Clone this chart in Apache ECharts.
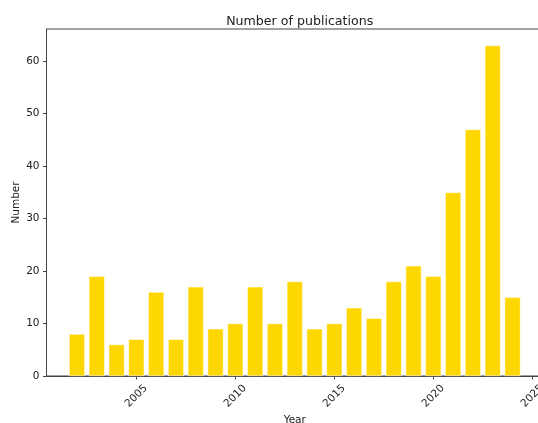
<!DOCTYPE html>
<html>
<head>
<meta charset="utf-8">
<script src="https://cdn.jsdelivr.net/npm/echarts@6/dist/echarts.min.js"></script>
<style>
html,body{margin:0;padding:0;background:#fff;}
#chart{width:538px;height:423px;}
</style>
</head>
<body>
<div id="chart"></div>
<script>
const years = [2002,2003,2004,2005,2006,2007,2008,2009,2010,2011,2012,2013,2014,2015,2016,2017,2018,2019,2020,2021,2022,2023,2024];
const counts = [8,19,6,7,16,7,17,9,10,17,10,18,9,10,13,11,18,21,19,35,47,63,15];
const xTicks = [2005,2010,2015,2020,2025];
const yTicks = [0,10,20,30,40,50,60];

const font = 'DejaVu Sans';
const axisColor = '#444';
const textColor = '#222';

const chart = echarts.init(document.getElementById('chart'), null, {renderer:'canvas'});
chart.setOption({
  animation:false,
  backgroundColor:'#fff',
  title:{
    text:'Number of publications',
    left:294.7, top:10, textAlign:'center',
    textStyle:{fontFamily:font, fontSize:12.6, fontWeight:'normal', color:textColor}
  },
  grid:{left:46.5, top:29, width:496.5, height:347, containLabel:false, outerBoundsMode:'none',
    show:true, borderColor:axisColor, borderWidth:1, backgroundColor:'transparent'},
  xAxis:{
    type:'value', min:2000.46, max:2025.54,
    name:'Year', nameLocation:'middle', nameGap:39, nameMoveOverlap:false,
    nameTextStyle:{fontFamily:font, fontSize:10.5, color:textColor},
    axisLine:{show:true, lineStyle:{color:axisColor, width:1}},
    axisTick:{show:true, inside:false, length:3.5, lineStyle:{color:axisColor}, customValues:xTicks},
    axisLabel:{customValues:xTicks, rotate:45, align:'center', verticalAlign:'middle', margin:20,
      fontFamily:font, fontSize:10.5, color:textColor, formatter:v=>String(v)},
    splitLine:{show:false}
  },
  yAxis:{
    type:'value', min:0, max:66.15,
    name:'Number', nameLocation:'middle', nameGap:25, nameMoveOverlap:false,
    nameTextStyle:{fontFamily:font, fontSize:10.5, color:textColor},
    axisLine:{show:true, lineStyle:{color:axisColor, width:1}},
    axisTick:{show:true, length:3.5, lineStyle:{color:axisColor}, customValues:yTicks},
    axisLabel:{customValues:yTicks, margin:7, fontFamily:font, fontSize:10.5, color:textColor},
    splitLine:{show:false}
  },
  series:[{
    type:'bar',
    data: years.map((y,i)=>[y, counts[i]]),
    barWidth:15.8,
    itemStyle:{color:'#FFD700', borderColor:'#fff', borderWidth:0.5}
  }]
});
</script>
</body>
</html>
